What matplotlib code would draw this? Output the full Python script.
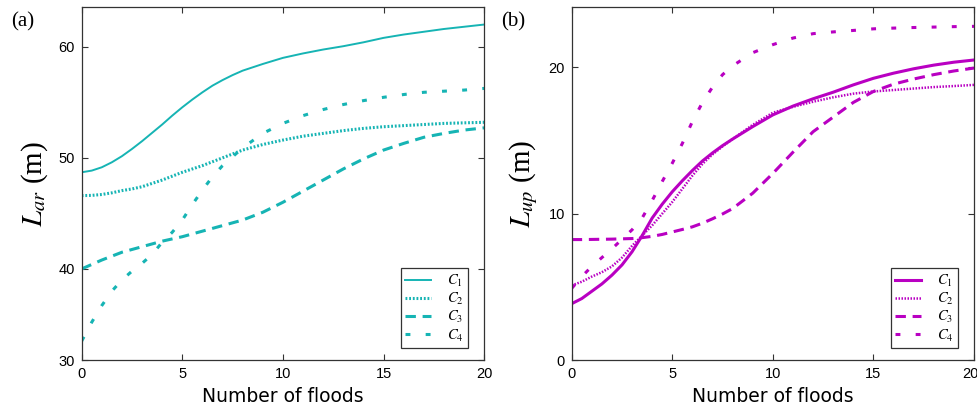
import matplotlib
matplotlib.use("Agg")
import matplotlib.pyplot as plt
import matplotlib.transforms as mtransforms

plt.rcParams["mathtext.fontset"] = "stix"

# ---- panel (a): L_ar (m) vs number of floods ----
x_a = [0, 0.5, 1, 1.5, 2, 2.5, 3, 3.5, 4, 4.5, 5, 5.5, 6, 6.5, 7, 7.5, 8, 9, 10,
       11, 12, 13, 14, 15, 16, 17, 18, 19, 20]
lar_c1 = [48.7, 48.85, 49.15, 49.6, 50.15, 50.8, 51.5, 52.25, 53.0, 53.8, 54.55,
          55.25, 55.9, 56.5, 57.0, 57.45, 57.85, 58.45, 59.0, 59.4, 59.75, 60.05,
          60.4, 60.8, 61.1, 61.35, 61.6, 61.8, 62.0]
lar_c2 = [46.6, 46.62, 46.7, 46.85, 47.05, 47.2, 47.4, 47.7, 48.0, 48.35, 48.7,
          49.0, 49.3, 49.65, 50.0, 50.35, 50.7, 51.2, 51.6, 51.95, 52.2, 52.45,
          52.65, 52.8, 52.9, 53.0, 53.1, 53.15, 53.2]
lar_c3 = [40.0, 40.4, 40.8, 41.15, 41.5, 41.75, 42.0, 42.25, 42.5, 42.7, 42.9,
          43.15, 43.4, 43.65, 43.9, 44.15, 44.4, 45.1, 46.0, 47.0, 48.0, 49.0,
          49.9, 50.7, 51.3, 51.85, 52.2, 52.5, 52.7]
x_a4 = [0, 0.5, 1, 1.5, 2, 2.5, 3, 3.5, 4, 4.5, 5, 5.5, 6, 6.5, 7, 7.5, 8, 9, 10,
        11, 12, 13, 14, 15, 16, 17, 18, 19, 20]
lar_c4 = [33.5, 35.2, 36.7, 38.0, 39.0, 39.8, 40.5, 41.3, 42.4, 43.3, 44.4, 45.8,
          47.1, 48.3, 49.3, 50.1, 50.9, 52.2, 53.1, 53.8, 54.35, 54.8, 55.15, 55.45,
          55.7, 55.9, 56.0, 56.1, 56.25]

# ---- panel (b): L_up (m) vs number of floods ----
x_b = [0, 0.5, 1, 1.5, 2, 2.5, 3, 3.5, 4, 4.5, 5, 5.5, 6, 6.5, 7, 7.5, 8, 9, 10,
       11, 12, 13, 14, 15, 16, 17, 18, 19, 20]
lup_c1 = [3.85, 4.2, 4.7, 5.2, 5.8, 6.5, 7.4, 8.5, 9.7, 10.65, 11.5, 12.25, 12.95,
          13.6, 14.15, 14.65, 15.1, 15.95, 16.75, 17.35, 17.85, 18.3, 18.8, 19.25,
          19.6, 19.9, 20.15, 20.35, 20.5]
lup_c2 = [5.1, 5.35, 5.7, 6.0, 6.4, 7.0, 7.8, 8.5, 9.2, 10.0, 10.8, 11.7, 12.6,
          13.4, 14.05, 14.6, 15.1, 16.07, 16.9, 17.3, 17.65, 17.95, 18.2, 18.35,
          18.45, 18.55, 18.65, 18.72, 18.8]
lup_c3 = [8.23, 8.23, 8.24, 8.25, 8.26, 8.28, 8.3, 8.36, 8.45, 8.58, 8.75, 8.92,
          9.1, 9.35, 9.65, 9.98, 10.35, 11.4, 12.75, 14.2, 15.6, 16.6, 17.6, 18.35,
          18.85, 19.2, 19.5, 19.75, 19.95]
x_b4 = [0, 0.5, 1, 1.5, 2, 2.5, 3, 3.5, 4, 4.5, 5, 5.5, 6, 6.5, 7, 7.5, 8, 9, 10,
        11, 12, 13, 14, 15, 16, 17, 18, 19, 20]
lup_c4 = [4.9, 5.7, 6.4, 7.0, 7.6, 8.25, 8.9, 9.7, 10.9, 12.2, 13.45, 14.8, 16.3,
          17.6, 18.65, 19.5, 20.1, 21.0, 21.55, 22.0, 22.3, 22.42, 22.52, 22.63,
          22.68, 22.72, 22.75, 22.78, 22.8]

series_names = ["$C_1$", "$C_2$", "$C_3$", "$C_4$"]
teal = "#16b4b4"
magenta = "#b900c2"

fig = plt.figure(figsize=(9.78, 4.16), dpi=100)
ax_a = fig.add_axes([0.0835, 0.1346, 0.4116, 0.8478])
ax_b = fig.add_axes([0.5846, 0.1346, 0.4113, 0.8478])

styles = [
    dict(linestyle="-"),
    dict(linestyle=(0, (0.6, 0.6))),
    dict(linestyle=(0, (3.4, 2.2))),
    dict(linestyle=(0, (1.6, 5.0))),
]


def draw(ax, xs, ys, color, widths):
    for xv, yv, st, lw, name in zip(xs, ys, styles, widths, series_names):
        ax.plot(xv, yv, color=color, linewidth=lw, label=name, **st)


draw(ax_a, [x_a, x_a, x_a, x_a4], [lar_c1, lar_c2, lar_c3, lar_c4], teal,
     [1.4, 2.2, 2.2, 2.2])
draw(ax_b, [x_b, x_b, x_b, x_b4], [lup_c1, lup_c2, lup_c3, lup_c4], magenta,
     [2.2, 1.8, 2.2, 2.2])

ax_a.set_xlim(0, 20)
ax_a.set_ylim(31.8, 63.55)
ax_a.set_yticks([31.8, 40, 50, 60])
ax_a.set_yticklabels(["30", "40", "50", "60"])
ax_b.set_xlim(0, 20)
ax_b.set_ylim(0, 24.1)
ax_b.set_yticks([0, 10, 20])

for ax, ylab, tag in [(ax_a, "$L_{ar}$ (m)", "(a)"), (ax_b, "$L_{up}$ (m)", "(b)")]:
    ax.set_xticks([0, 5, 10, 15, 20])
    ax.tick_params(direction="in", length=4, width=0.8, top=True, right=True,
                   labelsize=10.5, colors="#333333", labelcolor="black", pad=5)
    for lab in ax.get_xticklabels() + ax.get_yticklabels():
        lab.set_fontfamily("Liberation Sans")
    for sp in ax.spines.values():
        sp.set_linewidth(0.9)
        sp.set_color("#333333")
    ax.set_xlabel("Number of floods", fontsize=13.5, family="DejaVu Sans",
                  labelpad=4)
    ax.set_ylabel(ylab, fontsize=21, family="Liberation Serif", labelpad=6)
    ax.text(-0.175, 0.985, tag, transform=ax.transAxes, fontsize=15,
            family="Liberation Serif", va="top", ha="left")
    leg = ax.legend(loc="lower right", bbox_to_anchor=(0.96, 0.034),
                    fancybox=False, framealpha=1, edgecolor="#333333",
                    fontsize=10.5, handlelength=1.75, handletextpad=1.1,
                    labelspacing=0.15, borderpad=0.3, borderaxespad=0)
    leg.get_frame().set_linewidth(0.9)

# keep the last tick label of the right panel inside the figure
last = ax_b.get_xticklabels()[-1]
last.set_transform(last.get_transform() +
                   mtransforms.ScaledTranslation(-4 / 100, 0, fig.dpi_scale_trans))

fig.savefig("out.png", dpi=100)
